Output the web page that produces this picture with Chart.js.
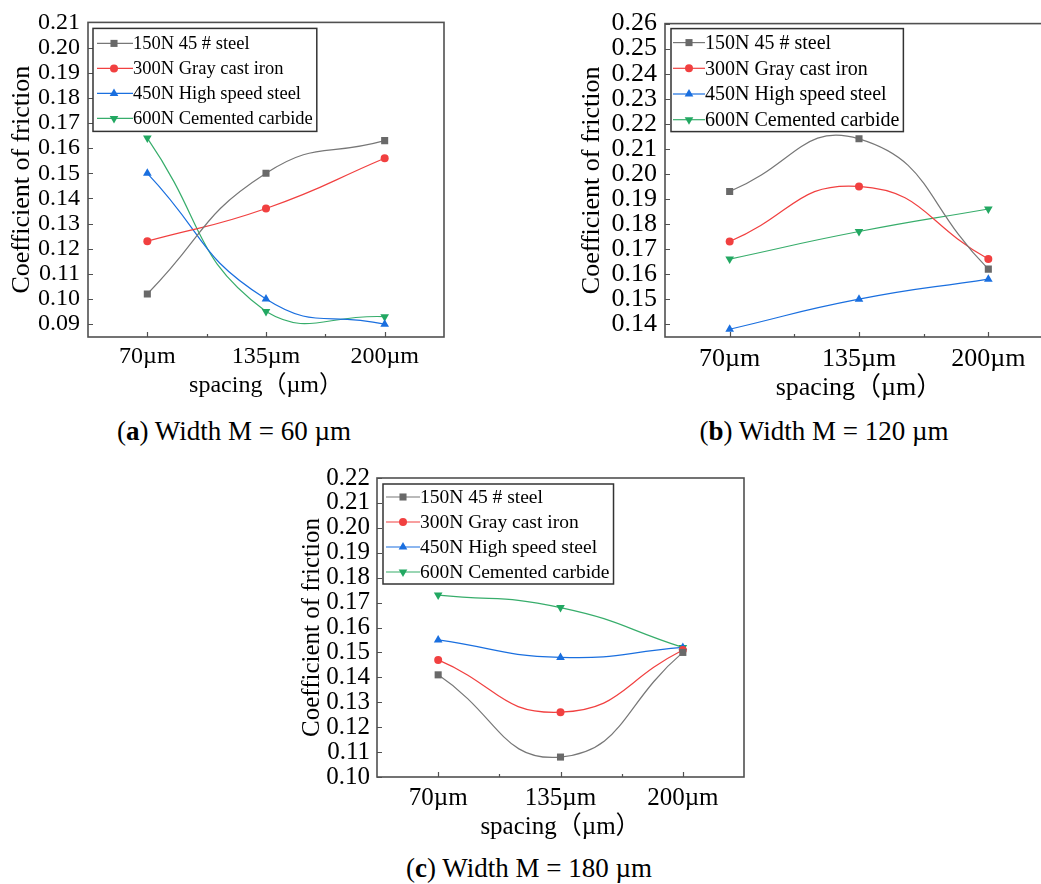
<!DOCTYPE html>
<html><head><meta charset="utf-8">
<script src="https://cdn.jsdelivr.net/npm/chart.js@4.4.0/dist/chart.umd.min.js"></script>
<style>
html,body{margin:0;padding:0;background:#fff;width:1041px;height:884px;overflow:hidden;position:relative}
canvas{position:absolute;display:block}
.cap{position:absolute;font-family:'Liberation Serif','Times New Roman',serif;font-size:27px;color:#000;white-space:nowrap;transform:translate(-50%,-50%);line-height:1}
</style></head><body>
<canvas id="ca"></canvas>
<canvas id="cb"></canvas>
<canvas id="cc"></canvas>
<div class="cap" style="left:234px;top:431px">(<b>a</b>) Width M = 60 µm</div>
<div class="cap" style="left:824px;top:431px">(<b>b</b>) Width M = 120 µm</div>
<div class="cap" style="left:529px;top:868px">(<b>c</b>) Width M = 180 µm</div>
<script>
// ---- data ----
const categories = ['70µm', '135µm', '200µm'];
const seriesNames = ['150N 45 # steel', '300N Gray cast iron', '450N High speed steel', '600N Cemented carbide'];

const a150 = [0.102, 0.150, 0.163];
const a300 = [0.123, 0.136, 0.156];
const a450 = [0.150, 0.100, 0.090];
const a600 = [0.164, 0.095, 0.093];

const b150 = [0.193, 0.214, 0.162];
const b300 = [0.173, 0.195, 0.166];
const b450 = [0.138, 0.150, 0.158];
const b600 = [0.166, 0.177, 0.186];

const c150 = [0.141, 0.108, 0.150];
const c300 = [0.147, 0.126, 0.151];
const c450 = [0.155, 0.148, 0.152];
const c600 = [0.173, 0.168, 0.152];

const yTicksA = [0.09, 0.10, 0.11, 0.12, 0.13, 0.14, 0.15, 0.16, 0.17, 0.18, 0.19, 0.20, 0.21];
const yTicksB = [0.14, 0.15, 0.16, 0.17, 0.18, 0.19, 0.20, 0.21, 0.22, 0.23, 0.24, 0.25, 0.26];
const yTicksC = [0.10, 0.11, 0.12, 0.13, 0.14, 0.15, 0.16, 0.17, 0.18, 0.19, 0.20, 0.21, 0.22];

const xTitle = 'spacing（µm）';
const yTitle = 'Coefficient of friction';

// ---- styles ----
const FAMILY = "'Liberation Serif', 'Times New Roman', 'Noto Sans CJK SC', serif";
const lineColors = ['#777777', '#F14040', '#1A6FDF', '#37AD6B'];
const markerColors = ['#696969', '#F14040', '#1A6FDF', '#22A862'];
const pointStyles = ['rect', 'circle', 'triangle', 'triangle'];
const pointRots = [0, 0, 0, 180];
const pointRads = [5, 4, 5, 5];

const framePlugin = {
  id: 'frame',
  afterDraw(chart) {
    const ctx = chart.ctx, ca = chart.chartArea, xs = chart.scales.x, ys = chart.scales.y;
    ctx.save();
    ctx.strokeStyle = '#505050';
    ctx.lineWidth = 1.6;
    ctx.strokeRect(ca.left, ca.top, ca.right - ca.left, ca.bottom - ca.top);
    ctx.lineWidth = 1.2;
    ctx.beginPath();
    ys.ticks.forEach(t => {
      const y = Math.round(ys.getPixelForValue(t.value)) + 0.5;
      ctx.moveTo(ca.left, y); ctx.lineTo(ca.left + 5, y);
    });
    const n = chart.data.labels.length;
    for (let i = 0; i < n; i++) {
      const x = Math.round(xs.getPixelForValue(i)) + 0.5;
      ctx.moveTo(x, ca.bottom); ctx.lineTo(x, ca.bottom - 5);
      if (i < n - 1) {
        const xm = Math.round((xs.getPixelForValue(i) + xs.getPixelForValue(i + 1)) / 2) + 0.5;
        ctx.moveTo(xm, ca.bottom); ctx.lineTo(xm, ca.bottom - 3);
      }
    }
    ctx.stroke();
    ctx.restore();
  }
};

function drawMarker(ctx, style, rad, rot, x, y) {
  if (Chart.helpers && Chart.helpers.drawPoint) {
    Chart.helpers.drawPoint(ctx, {pointStyle: style, radius: rad, rotation: rot, borderWidth: 0}, x, y);
    return;
  }
  ctx.beginPath();
  if (style === 'rect') { const s = rad * Math.SQRT1_2; ctx.rect(x - s, y - s, 2 * s, 2 * s); }
  else if (style === 'circle') { ctx.arc(x, y, rad, 0, Math.PI * 2); }
  else {
    const dir = rot === 180 ? -1 : 1;
    ctx.moveTo(x, y - dir * rad); ctx.lineTo(x - rad * 0.87, y + dir * rad * 0.5); ctx.lineTo(x + rad * 0.87, y + dir * rad * 0.5); ctx.closePath();
  }
  ctx.fill();
}

const legendPlugin = {
  id: 'boxLegend',
  afterDraw(chart, args, o) {
    const ctx = chart.ctx, ca = chart.chartArea;
    ctx.save();
    ctx.font = o.fs + 'px ' + FAMILY;
    const bx = ca.left + o.dx, by = ca.top + o.dy;
    let maxW = 0;
    chart.data.datasets.forEach(d => { maxW = Math.max(maxW, ctx.measureText(d.label).width); });
    const bw = o.tx + maxW + o.rp;
    ctx.fillStyle = '#fff';
    ctx.fillRect(bx, by, bw, o.h);
    ctx.strokeStyle = '#333';
    ctx.lineWidth = 1.5;
    ctx.strokeRect(bx, by, bw, o.h);
    chart.data.datasets.forEach((d, i) => {
      const y = by + o.first + i * o.rowH;
      ctx.strokeStyle = d.borderColor;
      ctx.lineWidth = 1.2;
      ctx.beginPath(); ctx.moveTo(bx + o.l0, y); ctx.lineTo(bx + o.tx, y); ctx.stroke();
      ctx.fillStyle = d.backgroundColor;
      drawMarker(ctx, d.pointStyle, d.pointRadius, d.pointRotation, bx + o.mx, y);
      ctx.fillStyle = '#000';
      ctx.textBaseline = 'middle';
      ctx.textAlign = 'left';
      ctx.fillText(d.label, bx + o.tx, y + 1);
    });
    ctx.restore();
  }
};

function build(id, vals, yTicks, yMin, yMax, g) {
  const cv = document.getElementById(id);
  cv.width = g.w; cv.height = g.h;
  cv.style.left = g.x + 'px'; cv.style.top = g.y + 'px';
  cv.style.width = g.w + 'px'; cv.style.height = g.h + 'px';
  const font = s => ({family: FAMILY, size: s, weight: 'normal'});
  return new Chart(cv, {
    type: 'line',
    data: {
      labels: categories,
      datasets: vals.map((v, i) => ({
        label: seriesNames[i], data: v,
        borderColor: lineColors[i], backgroundColor: markerColors[i],
        pointStyle: pointStyles[i], pointRotation: pointRots[i],
        pointRadius: pointRads[i], pointHoverRadius: pointRads[i], pointBorderWidth: 0,
        borderWidth: 1.2, tension: 0.5, fill: false
      }))
    },
    options: {
      responsive: false, animation: false, devicePixelRatio: 1,
      events: [],
      layout: {padding: {left: 0, top: g.pt, right: g.pr, bottom: 0}},
      plugins: {legend: {display: false}, tooltip: {enabled: false}, boxLegend: g.legend},
      scales: {
        x: {
          type: 'category', offset: true,
          grid: {display: false, drawTicks: false}, border: {display: false},
          ticks: {font: font(g.tf), color: '#000', padding: g.xp, maxRotation: 0, autoSkip: false},
          title: {display: true, text: xTitle, font: font(g.xtf), color: '#000', padding: {top: 0, bottom: 0}},
          afterFit: s => { s.height = g.xh; }
        },
        y: {
          type: 'linear', min: yMin, max: yMax,
          grid: {display: false, drawTicks: false}, border: {display: false},
          ticks: {font: font(g.tf), color: '#000', padding: g.yp, autoSkip: false, callback: v => Number(v).toFixed(2)},
          afterBuildTicks: s => { s.ticks = yTicks.map(v => ({value: v})); },
          title: {display: true, text: yTitle, font: font(g.ytf), color: '#000', padding: {top: 7, bottom: 0}},
          afterFit: s => { s.width = g.yw; }
        }
      }
    },
    plugins: [framePlugin, legendPlugin]
  });
}

build('ca', [a150, a300, a450, a600], yTicksA, 0.0849, 0.21,
  {x: 0, y: 0, w: 460, h: 400, pt: 21, pr: 16, yw: 88, xh: 63, tf: 24, xtf: 24, ytf: 26, xp: 5, yp: 8,
   legend: {dx: 5, dy: 6, h: 103, first: 15, rowH: 25, l0: 4, mx: 21, tx: 40, rp: 4, fs: 18.5}});
build('cb', [b150, b300, b450, b600], yTicksB, 0.1349, 0.26,
  {x: 570, y: 0, w: 499, h: 404, pt: 21, pr: 16, yw: 95, xh: 67, tf: 26, xtf: 26, ytf: 26, xp: 7, yp: 8,
   legend: {dx: 6, dy: 5, h: 103, first: 14, rowH: 25.7, l0: 2, mx: 18, tx: 34, rp: 4, fs: 20}});
build('cc', [c150, c300, c450, c600], yTicksC, 0.10, 0.22,
  {x: 290, y: 456, w: 470, h: 386, pt: 20, pr: 16, yw: 87, xh: 65, tf: 25, xtf: 25, ytf: 25, xp: 6, yp: 7,
   legend: {dx: 6, dy: 6, h: 100, first: 13, rowH: 25, l0: 3, mx: 20, tx: 37, rp: 4, fs: 19.5}});
</script>
</body></html>
